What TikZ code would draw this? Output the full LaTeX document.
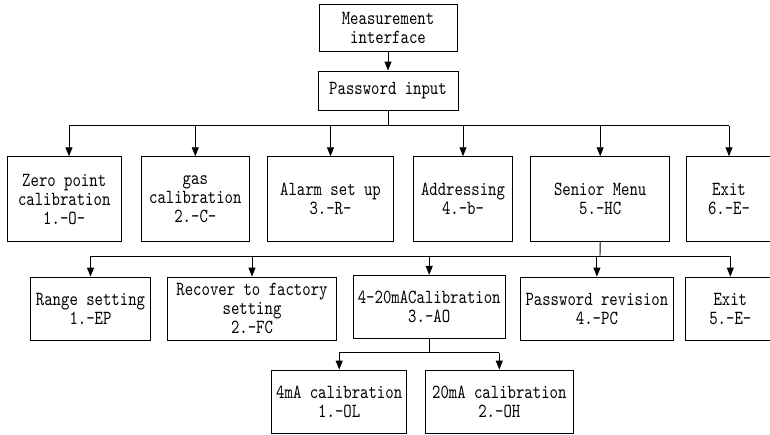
\documentclass[tikz,border=0pt]{standalone}
\usepackage{fontspec}
\newfontfamily\boxfont{lmmono10-regular}[Extension=.otf, FakeStretch=0.8]
\usetikzlibrary{arrows.meta}
\begin{document}
\begin{tikzpicture}[x=1pt,y=-1pt,
  box/.style={draw=black, line width=0.9pt, inner sep=0pt, align=center,
    font=\boxfont\fontsize{20}{19}\selectfont},
  link/.style={draw=black, line width=0.9pt},
  arr/.style={link, -{Triangle[length=9pt,width=7pt]}}]
\useasboundingbox (0,0) rectangle (770,434);
\clip (0,0) rectangle (770,434);
% level 0
\node[box, minimum width=138pt, minimum height=47.7pt] (meas) at (388,27.9) {Measurement\\interface};
\node[box, minimum width=140pt, minimum height=39.7pt] (pw) at (388,90.9) {Password input};
% level 1
\node[box, minimum width=113.7pt, minimum height=85pt] (zero) at (64.2,199.2) {Zero point\\calibration\\1.-O-};
\node[box, minimum width=107.3pt, minimum height=85pt] (gas) at (195.3,199.2) {gas\\calibration\\2.-C-};
\node[box, minimum width=125.6pt, minimum height=85pt] (alarm) at (330.5,199.2) {Alarm set up\\3.-R-};
\node[box, minimum width=99.4pt, minimum height=85pt] (addr) at (463,199.2) {Addressing\\4.-b-};
\node[box, minimum width=139pt, minimum height=85pt] (senior) at (600.2,199.2) {Senior Menu\\5.-HC};
\node[box, minimum width=86pt, minimum height=85pt] (exitA) at (729,199.2) {Exit\\6.-E-};
% level 2
\node[box, minimum width=119.6pt, minimum height=63.3pt] (range) at (90.5,308.7) {Range setting\\1.-EP};
\node[box, minimum width=168.6pt, minimum height=63.3pt] (recover) at (252,308.7) {Recover to factory\\setting\\2.-FC};
\node[box, minimum width=151.7pt, minimum height=63pt] (ma) at (429.2,306.8) {4-20mACalibration\\3.-AO};
\node[box, minimum width=152.3pt, minimum height=63.3pt] (pwrev) at (596.9,308.7) {Password revision\\4.-PC};
\node[box, minimum width=89.3pt, minimum height=63.3pt] (exitB) at (730.3,308.7) {Exit\\5.-E-};
% level 3
\node[box, minimum width=135pt, minimum height=63.3pt] (maf) at (339.2,401.7) {4mA calibration\\1.-OL};
\node[box, minimum width=148pt, minimum height=63.3pt] (mat) at (499.3,401.7) {20mA calibration\\2.-OH};
% connectors
\draw[arr] (meas) -- (pw);
\coordinate (b1) at (388,125.7);
\draw[link] (pw.south) -- (b1);
\draw[link] ([xshift=4.8pt]zero.north |- b1) -- (exitA.north |- b1);
\draw[arr] ([xshift=4.8pt]zero.north |- b1) -- ([xshift=4.8pt]zero.north);
\foreach \n in {gas,alarm,addr,senior,exitA}
  \draw[arr] (\n.north |- b1) -- (\n.north);
\coordinate (b2) at (600,256);
\draw[link] (senior.south) -- (b2);
\draw[link] (range.north |- b2) -- (exitB.north |- b2);
\foreach \n in {range,recover,ma,pwrev,exitB}
  \draw[arr] (\n.north |- b2) -- (\n.north);
\coordinate (b3) at (429.2,352.7);
\draw[link] (ma.south) -- (b3);
\draw[link] (maf.north |- b3) -- (mat.north |- b3);
\foreach \n in {maf,mat}
  \draw[arr] (\n.north |- b3) -- (\n.north);
\end{tikzpicture}
\end{document}
